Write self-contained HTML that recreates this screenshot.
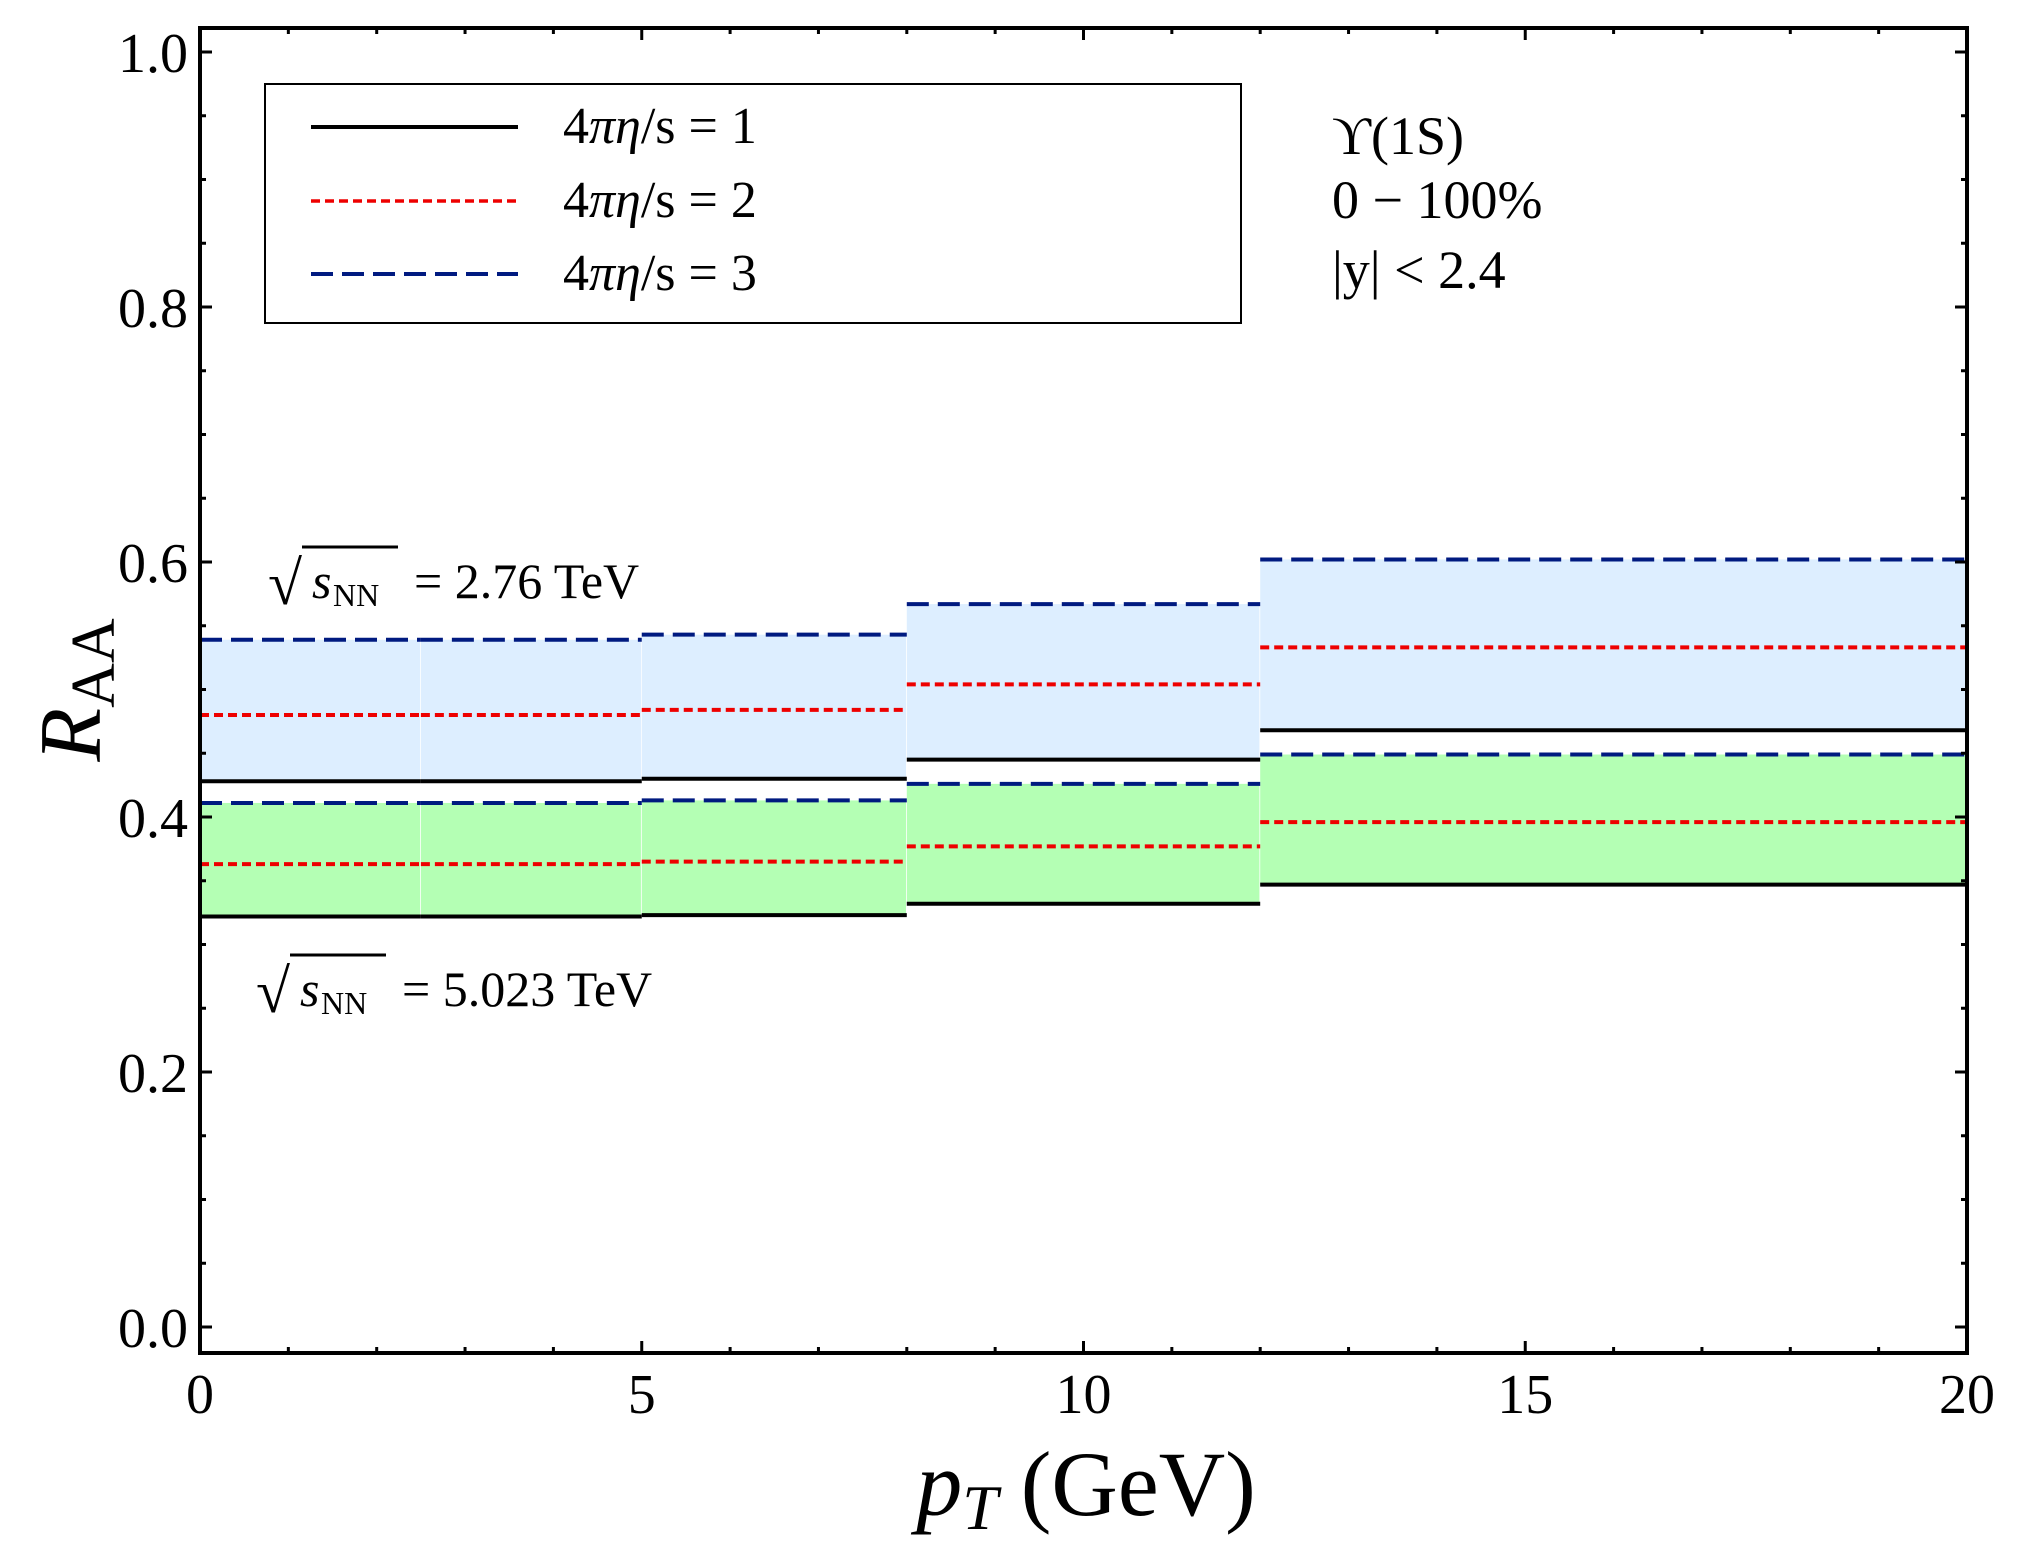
<!DOCTYPE html>
<html><head><meta charset="utf-8"><style>
html,body{margin:0;padding:0;background:#fff;}
svg{display:block;font-family:"Liberation Serif",serif;}
</style></head><body>
<svg id="chart" width="2019" height="1544" viewBox="0 0 2019 1544">
<g id="fills"></g><g id="lines"></g><g id="axes"></g>
<g>
<rect x="265" y="84" width="976" height="239" fill="#fff" stroke="#000" stroke-width="2"/>
<line x1="311" y1="127" x2="518" y2="127" stroke="#000" stroke-width="4"/>
<line x1="311" y1="201" x2="518" y2="201" stroke="#e00" stroke-width="3.5" stroke-dasharray="9,5"/>
<line x1="311" y1="274" x2="518" y2="274" stroke="#001a80" stroke-width="4" stroke-dasharray="22,9"/>
<text x="563" y="143" font-size="52">4<tspan font-style="italic">πη</tspan>/s = 1</text>
<text x="563" y="217" font-size="52">4<tspan font-style="italic">πη</tspan>/s = 2</text>
<text x="563" y="290" font-size="52">4<tspan font-style="italic">πη</tspan>/s = 3</text>
</g>
<text x="1332" y="154" font-size="54">ϒ(1S)</text>
<text x="1332" y="218" font-size="54">0 − 100%</text>
<text x="1332" y="288" font-size="54">|y| &lt; 2.4</text>
<g>
<text x="268" y="604" font-size="62">√</text>
<line x1="302" y1="547" x2="398" y2="547" stroke="#000" stroke-width="3"/>
<text x="312" y="598" font-size="50" font-style="italic">s</text><text x="333" y="606" font-size="32">NN</text>
<text x="414" y="598" font-size="50">= 2.76 TeV</text>
</g>
<g>
<text x="256" y="1012" font-size="62">√</text>
<line x1="290" y1="955" x2="386" y2="955" stroke="#000" stroke-width="3"/>
<text x="300" y="1006" font-size="50" font-style="italic">s</text><text x="321" y="1014" font-size="32">NN</text>
<text x="402" y="1006" font-size="50">= 5.023 TeV</text>
</g>
<text x="1086" y="1515" font-size="92" text-anchor="middle"><tspan font-style="italic">p<tspan font-size="64" dy="14">T</tspan></tspan><tspan dy="-14"> (GeV)</tspan></text>
<text transform="translate(100,690) rotate(-90)" font-size="88" text-anchor="middle"><tspan font-style="italic">R</tspan><tspan font-size="62" dy="14">AA</tspan></text>
</svg>
<script>
const binEdges = [0, 2.5, 5, 8, 12, 20];
const hi3 = [0.539, 0.539, 0.543, 0.567, 0.602];
const hi2 = [0.480, 0.480, 0.484, 0.504, 0.533];
const hi1 = [0.428, 0.428, 0.430, 0.445, 0.468];
const lo3 = [0.411, 0.411, 0.413, 0.426, 0.449];
const lo2 = [0.363, 0.363, 0.365, 0.377, 0.396];
const lo1 = [0.322, 0.322, 0.323, 0.332, 0.347];
const xTicks = [0, 5, 10, 15, 20];
const yTicks = ["0.0", "0.2", "0.4", "0.6", "0.8", "1.0"];

const NS = "http://www.w3.org/2000/svg";
const X0 = 200, X1 = 1967, YB = 1353, YT = 28;
function xs(v){ return X0 + (X1 - X0) * v / 20; }
function ys(v){ return 1327 - 1275 * v; }
function mk(tag, attrs, parent){
  const e = document.createElementNS(NS, tag);
  for (const k in attrs) e.setAttribute(k, attrs[k]);
  parent.appendChild(e); return e;
}
const fills = document.getElementById('fills');
const lines = document.getElementById('lines');
const axes = document.getElementById('axes');

for (let i = 0; i < binEdges.length - 1; i++) {
  const a = xs(binEdges[i]), b = xs(binEdges[i+1]);
  const f1 = mk('rect', {x:a, y:ys(hi3[i]), width:b-a-0.8, height:ys(hi1[i])-ys(hi3[i]), fill:'#ddeeff'}, fills);
  
  
  const f2 = mk('rect', {x:a, y:ys(lo3[i]), width:b-a-0.8, height:ys(lo1[i])-ys(lo3[i]), fill:'#b4ffb4'}, fills);
  
  
  const series = [
    [hi3, '#001a80', '22,9', 'hi-eta3'], [hi2, '#e00', '9,5', 'hi-eta2'], [hi1, '#000', null, 'hi-eta1'],
    [lo3, '#001a80', '22,9', 'lo-eta3'], [lo2, '#e00', '9,5', 'lo-eta2'], [lo1, '#000', null, 'lo-eta1']
  ];
  for (const s of series) {
    const at = {x1:a, x2:b, y1:ys(s[0][i]), y2:ys(s[0][i]), stroke:s[1], 'stroke-width':4};
    if (s[2]) at['stroke-dasharray'] = s[2];
    const l = mk('line', at, lines);
    
    
  }
}
const frame = mk('rect', {x:X0, y:YT, width:X1-X0, height:YB-YT, fill:'none', stroke:'#000', 'stroke-width':4}, axes);


for (let v = 0; v <= 20; v++) {
  const len = (v % 5 === 0) ? 12 : 6;
  mk('line', {x1:xs(v), x2:xs(v), y1:YB, y2:YB-len, stroke:'#000', 'stroke-width':3}, axes);
  mk('line', {x1:xs(v), x2:xs(v), y1:YT, y2:YT+len, stroke:'#000', 'stroke-width':3}, axes);
}
for (let k = 0; k <= 20; k++) {
  const v = k * 0.05, len = (k % 4 === 0) ? 12 : 6;
  mk('line', {x1:X0, x2:X0+len, y1:ys(v), y2:ys(v), stroke:'#000', 'stroke-width':3}, axes);
  mk('line', {x1:X1, x2:X1-len, y1:ys(v), y2:ys(v), stroke:'#000', 'stroke-width':3}, axes);
}
for (const t of xTicks) {
  const e = mk('text', {x:xs(t), y:1413, 'font-size':56, 'text-anchor':'middle'}, axes);
  e.textContent = t;
  
  
}
for (const t of yTicks) {
  const e = mk('text', {x:188, y:ys(parseFloat(t))+20, 'font-size':56, 'text-anchor':'end'}, axes);
  e.textContent = t;
  
  
}
</script>
</body></html>
